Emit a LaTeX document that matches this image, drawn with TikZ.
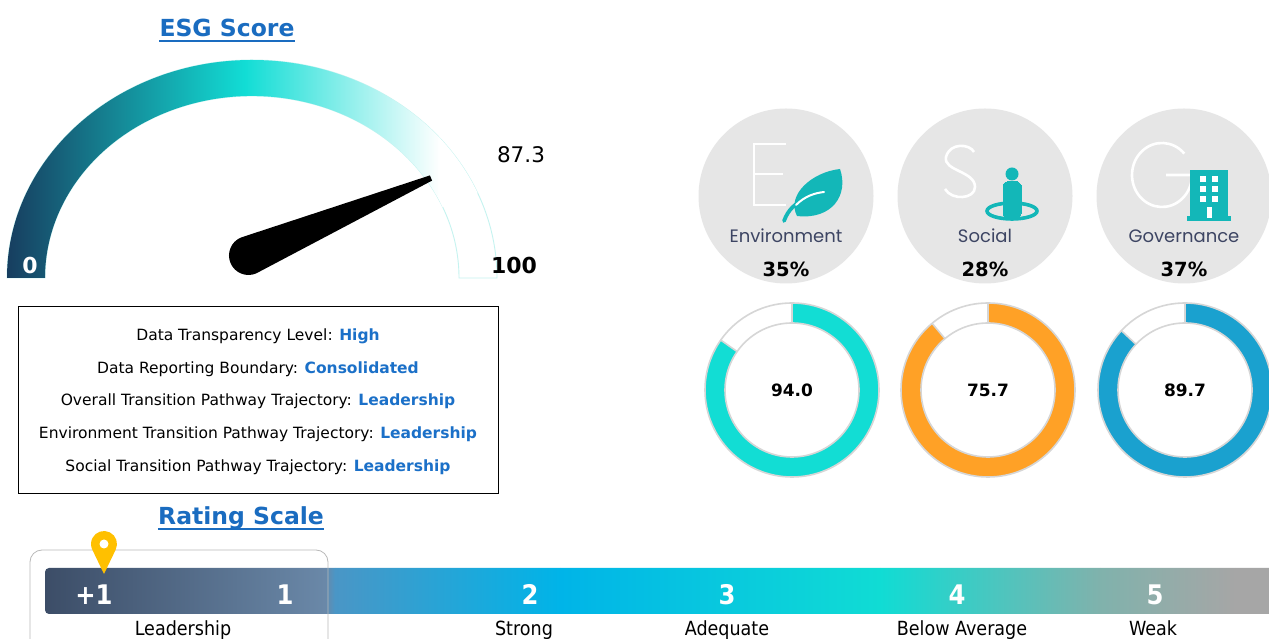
\documentclass[tikz,border=0pt]{standalone}
\usepackage{fontspec}
\setmainfont{DejaVu Sans}
\newfontfamily\condfont{DejaVu Sans Condensed}
\newfontfamily\geofont{Poppins}
\usetikzlibrary{calc}
\definecolor{titleblue}{HTML}{1A6CC0}
\definecolor{valblue}{HTML}{1B70C8}
\definecolor{gdark}{HTML}{173D5F}
\definecolor{gcyan}{HTML}{12DDD5}
\definecolor{gline}{HTML}{C5F3F0}
\definecolor{circgray}{HTML}{E6E6E6}
\definecolor{icontea}{HTML}{13B7B8}
\definecolor{labnavy}{HTML}{3D4563}
\definecolor{donutA}{HTML}{12DDD4}
\definecolor{donutB}{HTML}{FFA126}
\definecolor{donutC}{HTML}{1AA1CF}
\definecolor{ringgray}{HTML}{D6D6D6}
\definecolor{pinyel}{HTML}{FFC000}
\definecolor{b1}{HTML}{3C4D67}
\definecolor{b2}{HTML}{6A88A8}
\definecolor{b3}{HTML}{4A96C6}
\definecolor{b4}{HTML}{00B4E8}
\definecolor{b5}{HTML}{10DCD4}
\definecolor{b6}{HTML}{80B2AC}
\definecolor{b7}{HTML}{A6A6A6}
\tikzset{
  titletext/.style={font=\fontsize{23.5}{26}\selectfont\bfseries, text=titleblue, inner sep=0pt, anchor=base},
  uline/.style={titleblue, line width=2pt},
  infoline/.style={font=\fontsize{15.5}{18}\selectfont, inner sep=0pt, anchor=base},
  gaugelab/.style={font=\fontsize{22}{24}\selectfont\bfseries, inner sep=0pt, anchor=base},
  esgcircle/.style={circle, fill=circgray, minimum size=175pt, inner sep=0pt},
  esglab/.style={font=\geofont\fontsize{18}{20}\selectfont, text=labnavy, inner sep=0pt, anchor=base},
  pctlab/.style={font=\fontsize{19.5}{22}\selectfont\bfseries, inner sep=0pt, anchor=base},
  letterline/.style={white, line width=2.6pt, line cap=butt},
  ringline/.style={ringgray, line width=1.6pt},
  donutval/.style={font=\fontsize{17}{19}\selectfont\bfseries, inner sep=0pt, anchor=base},
  barnum/.style={font=\condfont\fontsize{27}{30}\selectfont\bfseries, text=white, inner sep=0pt, anchor=base},
  barlab/.style={font=\condfont\fontsize{19.5}{22}\selectfont, inner sep=0pt, anchor=base},
}
\begin{document}
\begin{tikzpicture}[x=1pt,y=1pt]
\useasboundingbox (0,0) rectangle (1269,639);
\fill[white] (0,0) rectangle (1269,639);

% ---------- ESG Score title
\node[titletext] (esgtitle) at (227,602) {ESG Score};
\draw[uline] ($(esgtitle.base west)+(0,-4)$) -- ($(esgtitle.base east)+(0,-4)$);

% ---------- gauge
\coordinate (gc) at (252,361);
\draw[gline, line width=0.9pt] (7,361) arc[start angle=180, end angle=0, x radius=245, y radius=218]
   -- (459,361) arc[start angle=0, end angle=180, x radius=207, y radius=182] -- cycle;
\begin{scope}
\clip (7,361) arc[start angle=180, end angle=22.9, x radius=245, y radius=218]
   -- ($(gc)+(22.9:207 and 182)$) arc[start angle=22.9, end angle=180, x radius=207, y radius=182] -- cycle;
\shade[left color=gdark, right color=gcyan] (6,360) rectangle (245,581);
\shade[left color=gcyan, right color=white] (245,360) rectangle (440,581);
\fill[white] (440,360) rectangle (500,581);
\end{scope}
% needle
\coordinate (nb) at (248.5,383.5);
\coordinate (nt) at (431,461);
\fill[black] ($(nb)+(112.9:19.5)$) -- ($(nt)+(112.9:2.8)$) -- ($(nt)+(-67.1:2.8)$)
   -- ($(nb)+(-67.1:19.5)$) arc[start angle=-67.1, end angle=-247.1, radius=19.5] -- cycle;
\node[gaugelab, text=white] (g0) at (30,365) {0};
\node[gaugelab] (g100) at (514,365) {100};
\node[font=\fontsize{21.5}{24}\selectfont, inner sep=0pt, anchor=base] (gval) at (521,476) {87.3};

% ---------- info box
\node[draw=black, line width=1.3pt, minimum width=480pt, minimum height=187pt, anchor=south west, inner sep=0pt] (infobox) at (18,145) {};
\node[infoline] (i1) at (258,298) {Data Transparency Level: \textcolor{valblue}{\bfseries High}};
\node[infoline] (i2) at (258,265) {Data Reporting Boundary: \textcolor{valblue}{\bfseries Consolidated}};
\node[infoline] (i3) at (258,233) {Overall Transition Pathway Trajectory: \textcolor{valblue}{\bfseries Leadership}};
\node[infoline] (i4) at (258,200) {Environment Transition Pathway Trajectory: \textcolor{valblue}{\bfseries Leadership}};
\node[infoline] (i5) at (258,167) {Social Transition Pathway Trajectory: \textcolor{valblue}{\bfseries Leadership}};

% ---------- Rating Scale title
\node[titletext] (rstitle) at (241,114) {Rating Scale};
\draw[uline] ($(rstitle.base west)+(0,-4.5)$) -- ($(rstitle.base east)+(0,-4.5)$);

% ---------- ESG circles
\node[esgcircle] (cE) at (786,443) {};
\node[esgcircle] (cS) at (985,443) {};
\node[esgcircle] (cG) at (1184,443) {};
% E letter
\draw[letterline] (786,495) -- (754,495) -- (754,434) -- (786,434);
\draw[letterline] (754,465) -- (783,465);
% leaf
\fill[icontea] (797,423) .. controls (786,444) and (812,467) .. (840,470)
   .. controls (849,444) and (832,419) .. (797,423) -- cycle;
\draw[icontea, line width=3.8pt, line cap=round] (784,418) .. controls (788,429) and (795,436) .. (806,440);
\draw[white, line width=2pt, line cap=round] (796,434) .. controls (805,443) and (815,446) .. (824,447);
% S letter
\draw[letterline] (974,487) .. controls (970,495) and (950,497) .. (946,482)
   .. controls (943,468) and (975,468) .. (975,452) .. controls (975,440) and (952,438) .. (945,450);
% person
\draw[icontea, line width=3.6pt] (1012,428) ellipse[x radius=25, y radius=8];
\fill[icontea] (1012,465) circle[radius=6.5];
\draw[icontea, fill=icontea, line width=0pt, rounded corners=4pt] (1003,422) rectangle (1021,457);
\draw[circgray, line width=2pt] (1001,424) -- (1001,432) (1023,424) -- (1023,432);
% G letter
\draw[letterline] ($(1162,464)+(42:30 and 32)$) arc[start angle=42, end angle=360, x radius=30, y radius=32] -- (1166,464);
% building
\fill[icontea] (1190,419) rectangle (1228,469);
\fill[icontea] (1187,418) rectangle (1231,423);
\foreach \wx in {1200,1212} {
  \foreach \wy in {457,447,437} {
    \fill[white] (\wx,\wy) rectangle ++(6,6);
  }
}
\fill[white] (1207,421) rectangle (1212,432);
% labels
\node[esglab] (lE) at (786,396) {Environment};
\node[esglab] (lS) at (985,396) {Social};
\node[esglab] (lG) at (1184,396) {Governance};
\node[pctlab] (pE) at (786,362) {35\%};
\node[pctlab] (pS) at (985,362) {28\%};
\node[pctlab] (pG) at (1184,362) {37\%};

% ---------- donuts
\foreach \cx/\col/\ga/\val/\nm in {792/donutA/145/94.0/dA, 988/donutB/130/75.7/dB, 1185/donutC/137/89.7/dC} {
  \fill[\col] (\cx,336) arc[start angle=90, end angle={\ga-360}, radius=87]
     -- ($(\cx,249)+(\ga:67)$) arc[start angle={\ga-360}, end angle=90, radius=67] -- cycle;
  \draw[ringline] (\cx,249) circle[radius=87];
  \draw[ringline] (\cx,249) circle[radius=67];
  \draw[ringline] ($(\cx,249)+(90:67)$) -- ($(\cx,249)+(90:87)$);
  \draw[ringline] ($(\cx,249)+(\ga:67)$) -- ($(\cx,249)+(\ga:87)$);
  \node[donutval] (\nm) at (\cx,242) {\val};
}

% ---------- rating bar
\begin{scope}
\clip[rounded corners=4pt] (45,25) rectangle (1285,71);
\shade[left color=b1, right color=b2] (44,24) rectangle (325,72);
\shade[left color=b2, right color=b3] (325,24) rectangle (335,72);
\shade[left color=b3, right color=b4] (335,24) rectangle (560,72);
\shade[left color=b4, right color=b5] (560,24) rectangle (880,72);
\shade[left color=b5, right color=b6] (880,24) rectangle (1100,72);
\shade[left color=b6, right color=b7] (1100,24) rectangle (1235,72);
\fill[b7] (1235,24) rectangle (1270,72);
\end{scope}
\draw[gray!55, line width=0.8pt, rounded corners=12pt] (30,-20) -- (30,89) -- (328,89) -- (328,-20);
\node[barnum] (n0) at (94,34) {+1};
\node[barnum] (n1) at (285,34) {1};
\node[barnum] (n2) at (530,34) {2};
\node[barnum] (n3) at (727,34) {3};
\node[barnum] (n4) at (957,34) {4};
\node[barnum] (n5) at (1155,34) {5};
\node[barlab] (l1) at (183,3) {Leadership};
\node[barlab] (l2) at (524,3) {Strong};
\node[barlab] (l3) at (727,3) {Adequate};
\node[barlab] (l4) at (962,3) {Below Average};
\node[barlab] (l5) at (1153,3) {Weak};
% pin
\coordinate (pc) at (104,95);
\fill[pinyel] (104,65) -- ($(pc)+(-26.6:13)$) arc[start angle=-26.6, end angle=206.6, radius=13] -- cycle;
\fill[white] (pc) circle[radius=4.5];
\end{tikzpicture}
\end{document}
